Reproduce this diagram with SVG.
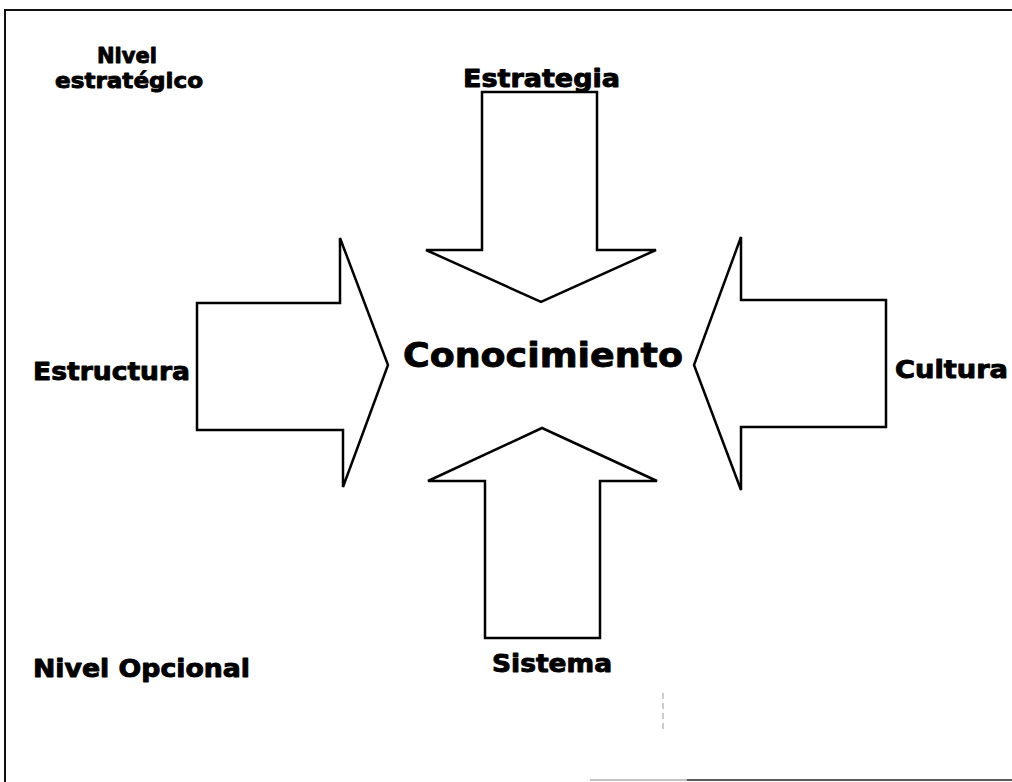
<svg xmlns="http://www.w3.org/2000/svg" width="1012" height="782" viewBox="0 0 1012 782">
<style>
.arrow{fill:#fff;stroke:#000;stroke-width:2.5;stroke-linejoin:miter}
.lbl{font-family:"DejaVu Sans","Verdana",sans-serif;font-weight:bold;fill:#000;stroke:#000;stroke-width:0.9;stroke-linejoin:round}
.frame{stroke:#111;stroke-width:2;fill:none}
</style>
<rect width="1012" height="782" fill="#fff"/>
<g id="frame">
<path class="frame" d="M5,782 V10 H1012"/>
<path d="M590,780 H687" stroke="#888" stroke-width="1.2" fill="none"/>
<path d="M687,780 H1012" stroke="#222" stroke-width="1.5" fill="none"/>
<path d="M663,693 V730" stroke="#999" stroke-width="1" stroke-dasharray="6,4" fill="none"/>
</g>
<g id="connectors">
<polygon id="arrow-estrategia" class="arrow" points="482,92 597,92 597,250 656,250 541,302 426,250 482,250"/>
<polygon id="arrow-estructura" class="arrow" points="197,303 340,303 340,238 388,365 343,487 343,430 197,430"/>
<polygon id="arrow-cultura" class="arrow" points="886,300 741,300 741,237 694,365 741,490 741,427 886,427"/>
<polygon id="arrow-sistema" class="arrow" points="485,638 600,638 600,481 657,481 542,428 428,481 485,481"/>
</g>
<g id="node-nivel-estrategico">
<text class="lbl" font-size="22" x="97" y="63" textLength="60" lengthAdjust="spacingAndGlyphs">Nivel</text>
<text class="lbl" font-size="22" x="55" y="88" textLength="148" lengthAdjust="spacingAndGlyphs">estratégico</text>
</g>
<g id="node-estrategia"><text class="lbl" font-size="24" x="463" y="87" textLength="157" lengthAdjust="spacingAndGlyphs">Estrategia</text></g>
<g id="node-conocimiento"><text class="lbl" font-size="34" x="403" y="367" textLength="280" lengthAdjust="spacingAndGlyphs">Conocimiento</text></g>
<g id="node-estructura"><text class="lbl" font-size="24" x="33" y="380" textLength="157" lengthAdjust="spacingAndGlyphs">Estructura</text></g>
<g id="node-cultura"><text class="lbl" font-size="24" x="895" y="378" textLength="113" lengthAdjust="spacingAndGlyphs">Cultura</text></g>
<g id="node-sistema"><text class="lbl" font-size="24" x="492" y="672" textLength="120" lengthAdjust="spacingAndGlyphs">Sistema</text></g>
<g id="node-nivel-opcional"><text class="lbl" font-size="24" x="33" y="677" textLength="217" lengthAdjust="spacingAndGlyphs">Nivel Opcional</text></g>
</svg>
